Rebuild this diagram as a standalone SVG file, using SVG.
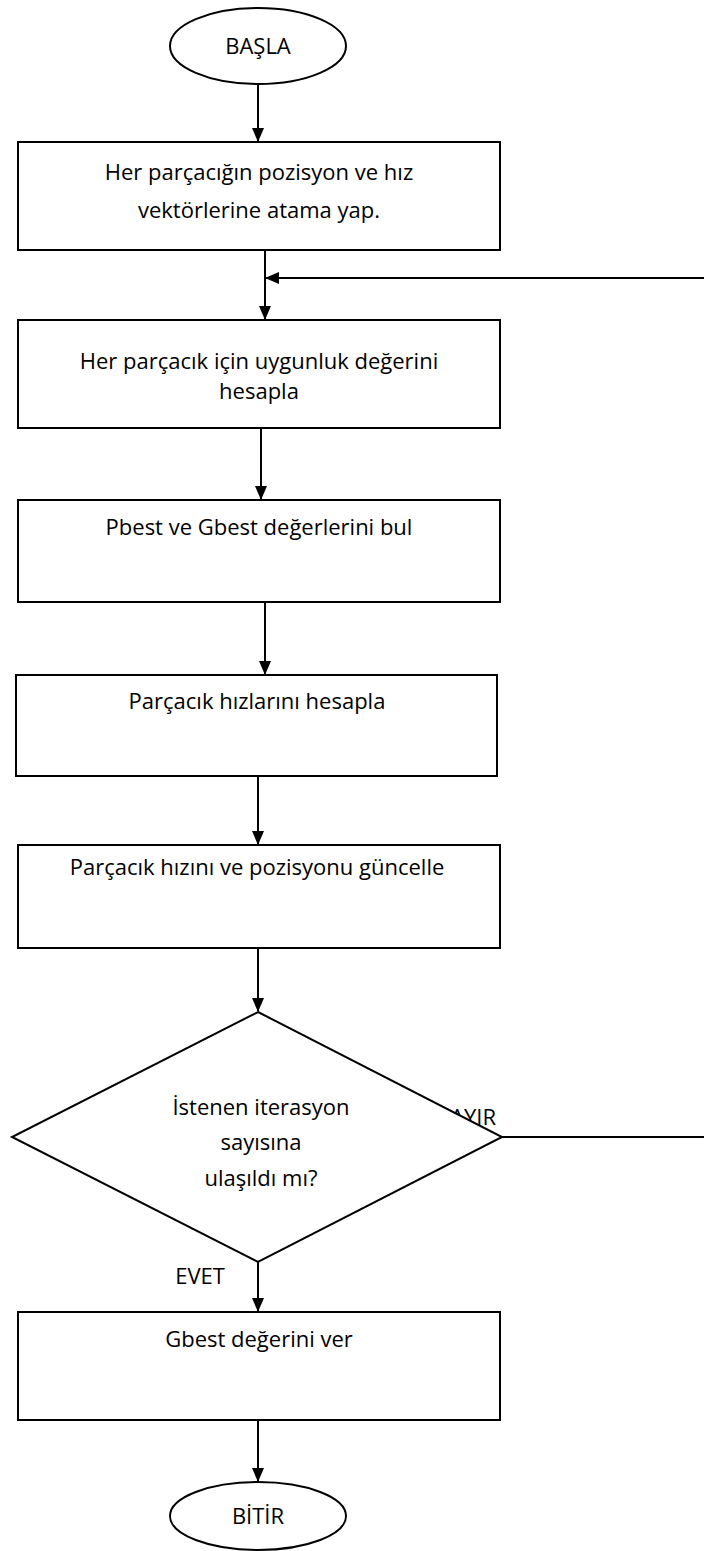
<svg xmlns="http://www.w3.org/2000/svg" width="704" height="1551" viewBox="0 0 704 1551">
<defs>
<style>
.shape{fill:#fff;stroke:#000;stroke-width:2}
.t{font-family:"Open Sans","Liberation Sans",sans-serif;font-size:22px;fill:#000;text-anchor:middle}
.c{stroke:#000;stroke-width:2;fill:none}
</style>
<marker id="ah" markerWidth="14" markerHeight="12" refX="13" refY="6" orient="auto" markerUnits="userSpaceOnUse">
<path d="M0,0 L14,6 L0,12 Z" fill="#000"/>
</marker>
</defs>
<rect width="704" height="1551" fill="#fff"/>
<g id="label-hayir"><text class="t" x="465" y="1125">HAYIR</text></g>
<g id="connectors">
<line class="c" x1="258" y1="84" x2="258" y2="141" marker-end="url(#ah)"/>
<line class="c" x1="265" y1="250" x2="265" y2="319" marker-end="url(#ah)"/>
<line class="c" x1="704" y1="278" x2="266" y2="278" marker-end="url(#ah)"/>
<line class="c" x1="261" y1="428" x2="261" y2="499" marker-end="url(#ah)"/>
<line class="c" x1="265" y1="602" x2="265" y2="674" marker-end="url(#ah)"/>
<line class="c" x1="258" y1="776" x2="258" y2="844" marker-end="url(#ah)"/>
<line class="c" x1="258" y1="948" x2="258" y2="1011" marker-end="url(#ah)"/>
<line class="c" x1="502" y1="1137" x2="704" y2="1137"/>
<line class="c" x1="258" y1="1262" x2="258" y2="1311" marker-end="url(#ah)"/>
<line class="c" x1="258" y1="1420" x2="258" y2="1481" marker-end="url(#ah)"/>
</g>
<g id="start"><ellipse class="shape" cx="258" cy="46" rx="88" ry="38"/><text class="t" x="258" y="54">BAŞLA</text></g>
<g id="init"><rect class="shape" x="18" y="142" width="482" height="108"/><text class="t" x="259" y="180">Her parçacığın pozisyon ve hız</text><text class="t" x="259" y="218">vektörlerine atama yap.</text></g>
<g id="fitness"><rect class="shape" x="18" y="320" width="482" height="108"/><text class="t" x="259" y="369">Her parçacık için uygunluk değerini</text><text class="t" x="259" y="399">hesapla</text></g>
<g id="best"><rect class="shape" x="18" y="500" width="482" height="102"/><text class="t" x="259" y="535">Pbest ve Gbest değerlerini bul</text></g>
<g id="velocity"><rect class="shape" x="16" y="675" width="481" height="101"/><text class="t" x="257" y="709">Parçacık hızlarını hesapla</text></g>
<g id="update"><rect class="shape" x="18" y="845" width="482" height="103"/><text class="t" x="257" y="875">Parçacık hızını ve pozisyonu güncelle</text></g>
<g id="decision"><polygon class="shape" points="258,1012 502,1137 258,1262 12,1137"/><text class="t" x="261" y="1115">İstenen iterasyon</text><text class="t" x="261" y="1150">sayısına</text><text class="t" x="261" y="1186">ulaşıldı mı?</text></g>
<g id="label-evet"><text class="t" x="200" y="1284">EVET</text></g>
<g id="output"><rect class="shape" x="18" y="1312" width="482" height="108"/><text class="t" x="259" y="1347">Gbest değerini ver</text></g>
<g id="end"><ellipse class="shape" cx="258" cy="1516" rx="88" ry="34"/><text class="t" x="258" y="1524">BİTİR</text></g>
</svg>
